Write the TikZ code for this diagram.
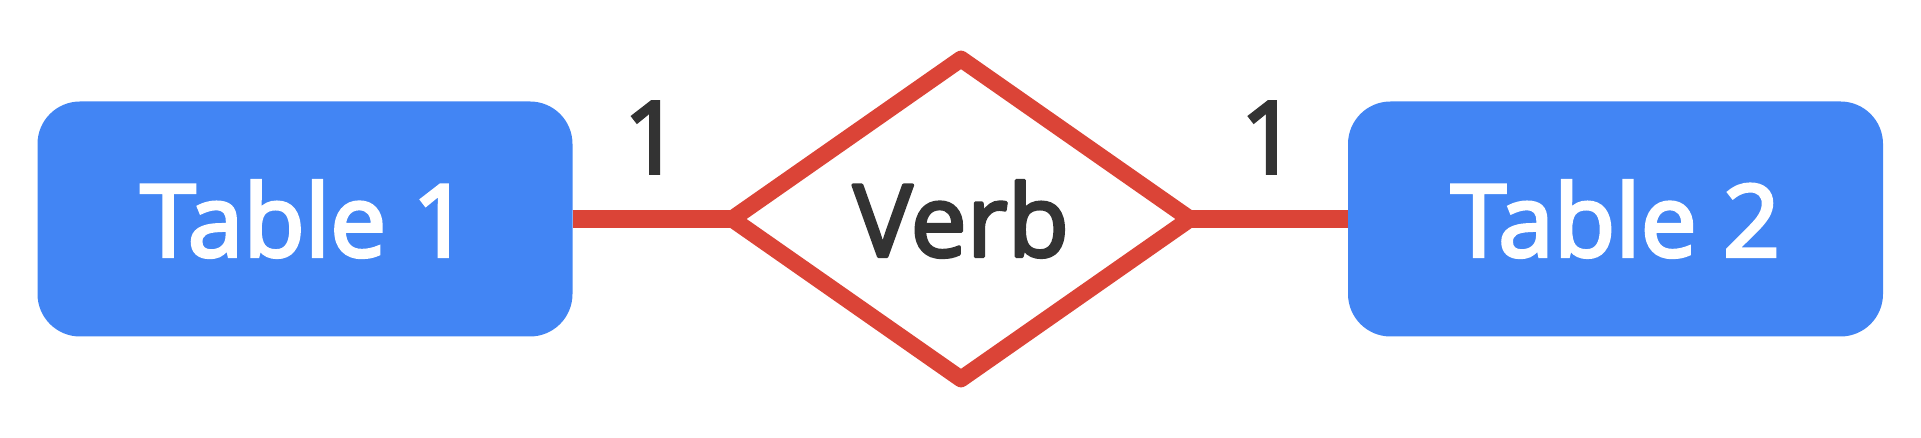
\documentclass[tikz,border=0pt]{standalone}
\usepackage{fontspec}
\newfontfamily\diagfont{Open Sans}[FakeBold=3.2]
\usepackage{xcolor}
\usetikzlibrary{
  shapes.geometric,
  positioning
}
\definecolor{tableblue}{HTML}{4285F4}
\definecolor{relred}{HTML}{DB4437}
\definecolor{textgray}{HTML}{333333}

\begin{document}
\begin{tikzpicture}[%詳細設定
          tablebox/.style={
              rectangle,
              rounded corners=0.85cm,
              fill=tableblue,
              text=white,
              minimum width=10.7cm,
              minimum height=4.7cm,
              outer sep=0pt,
              font=\fontsize{57}{60}\diagfont
            },relation/.style={
              diamond,
              draw=relred,
              line width=9.5pt,
              line join=round,
              fill=white,
              text=textgray,
              minimum width=9.16cm,
              minimum height=6.4cm,
              inner sep=0pt,
              outer sep=0pt,
              font=\fontsize{57}{60}\diagfont
            },connector/.style={
              draw=relred,
              line width=10pt
            },card/.style={
              above=0.74cm,
              inner sep=0pt,
              text=textgray,
              font=\fontsize{57}{60}\diagfont
            }
        ]

        % 余白の指定
        \useasboundingbox (0,0) rectangle (38.42,8.76);

        % エンティティと関係
        \node[tablebox] (table1) at (6.1,4.38) {Table 1};
        \node[relation] (verb) at (19.22,4.38) {Verb};
        \node[tablebox] (table2) at (32.31,4.38) {Table 2};

        % 接続線と多重度
        \draw[connector] (table1) -- (verb) node[midway,card] {1};
        \draw[connector] (verb) -- (table2) node[midway,card] {1};

      \end{tikzpicture}
\end{document}
